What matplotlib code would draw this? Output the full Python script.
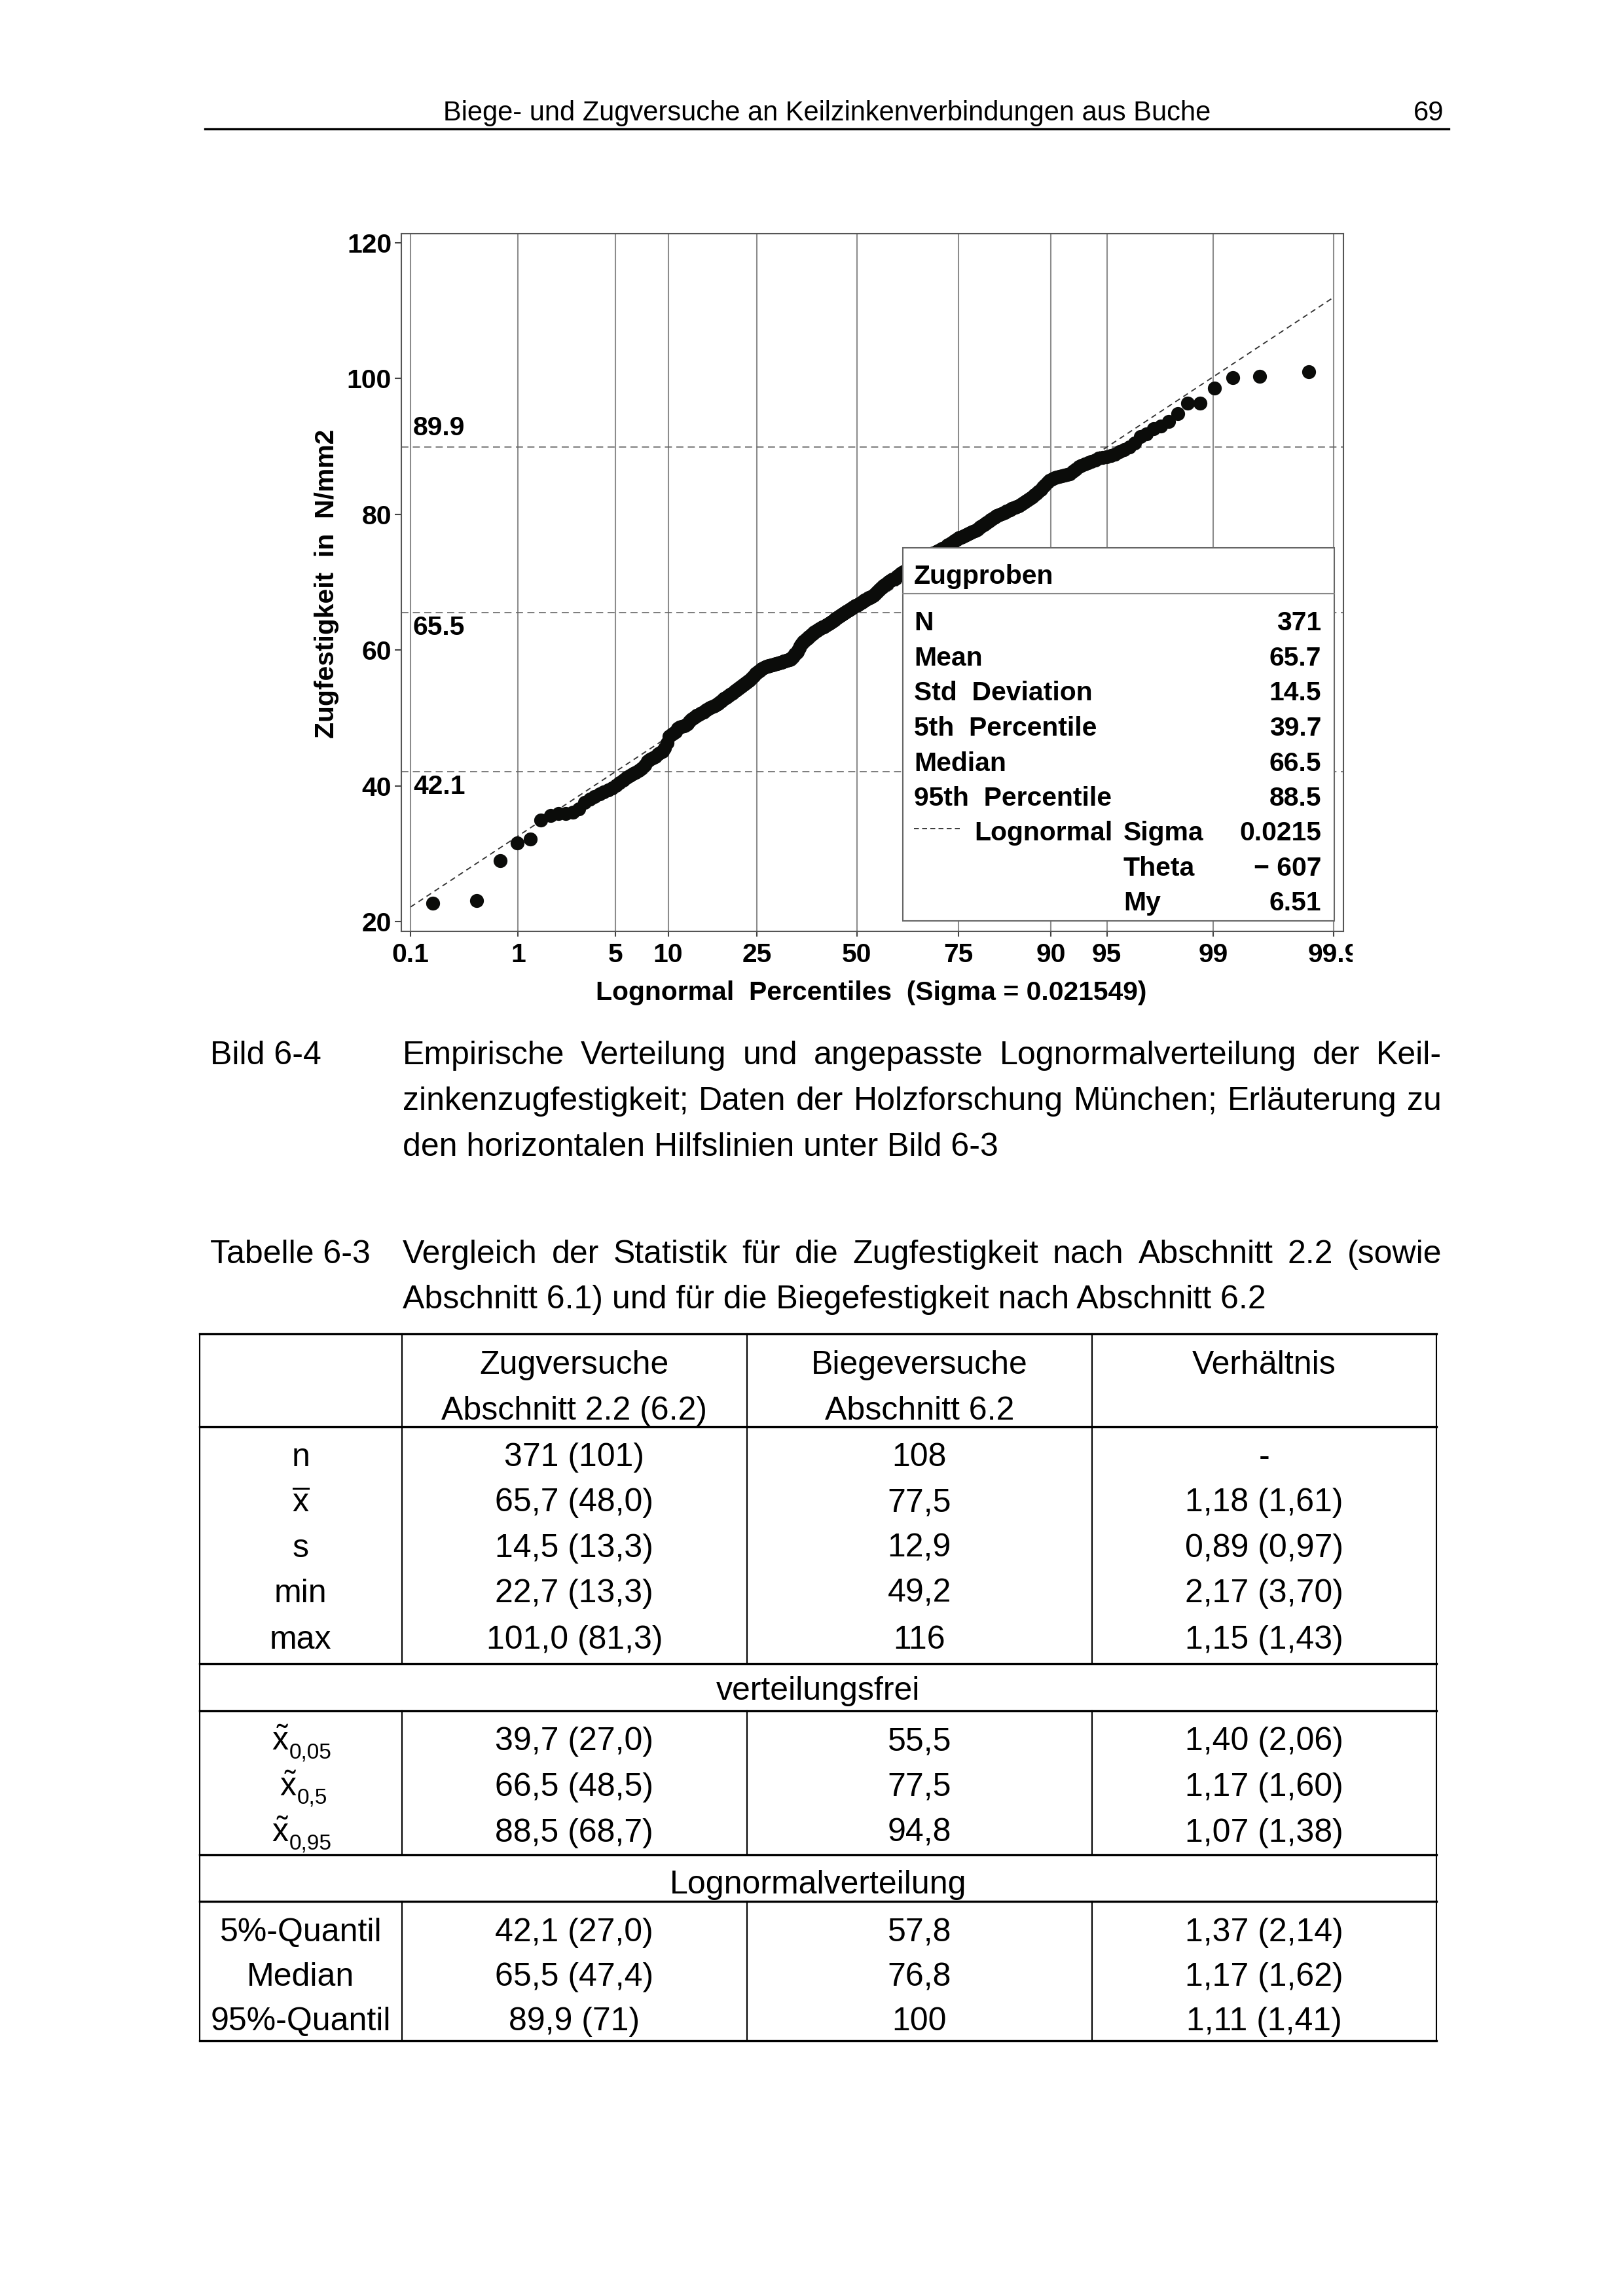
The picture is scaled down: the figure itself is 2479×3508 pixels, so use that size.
import numpy as np
import matplotlib
matplotlib.use('Agg')
import matplotlib.pyplot as plt
from matplotlib.lines import Line2D
from matplotlib.patches import Rectangle
from matplotlib.transforms import Bbox, TransformedBbox
from statistics import NormalDist

plt.rcParams['font.family'] = ['Liberation Sans', 'DejaVu Sans']
plt.rcParams['mathtext.fontset'] = 'custom'
plt.rcParams['mathtext.rm'] = 'Liberation Sans'
plt.rcParams['mathtext.it'] = 'Liberation Sans:italic'
plt.rcParams['lines.scale_dashes'] = False

# Seitengroesse in Pixel (A4 bei 300 dpi)
W, H = 2479, 3508
DPI = 300

# Sortierte Zugfestigkeiten, N/mm2
zugfestigkeit = [
    22.7, 23.1, 29.0, 31.6, 32.1, 34.9, 35.6, 35.9, 35.9, 36.1,
    36.6, 37.5, 38.0, 38.4, 38.8, 39.1, 39.4, 39.7, 40.1, 40.4,
    40.8, 41.2, 41.5, 41.8, 42.0, 42.3, 42.6,
    43.0, 43.6, 43.9, 44.1, 44.3, 44.7, 44.9, 45.1, 45.6, 46.3, 47.3, 47.6,
    47.8, 48.0, 48.4, 48.6, 48.7, 48.8, 48.9, 49.1, 49.5, 49.8, 50.0,
    50.2, 50.4, 50.5, 50.7, 50.8, 50.9, 51.1,
    51.2, 51.4, 51.5, 51.6, 51.7, 51.8, 52.0, 52.1,
    52.3, 52.5, 52.7, 52.9,
    53.0, 53.2, 53.3, 53.5, 53.6, 53.7, 53.9, 54.0,
    54.2, 54.3, 54.5, 54.6, 54.8, 54.9, 55.1, 55.2, 55.4, 55.5,
    55.7, 55.9, 56.1, 56.3, 56.5, 56.6, 56.8,
    56.9, 57.0, 57.2, 57.3, 57.4, 57.5, 57.6,
    57.6, 57.7, 57.7, 57.8, 57.8, 57.9, 57.9, 58.0, 58.0, 58.1, 58.1,
    58.2, 58.2, 58.3, 58.4, 58.4, 58.5, 58.5, 58.6, 58.6, 58.7,
    58.9, 59.0, 59.2, 59.4, 59.5, 59.7,
    60.0, 60.3, 60.6, 60.9, 61.1, 61.3,
    61.4, 61.6, 61.7, 61.8, 61.9, 62.0, 62.2, 62.3, 62.4, 62.6,
    62.7, 62.8, 62.9, 63.0, 63.1, 63.2, 63.3, 63.4, 63.4, 63.5, 63.6, 63.7, 63.8,
    63.9, 64.0, 64.1, 64.2, 64.3, 64.4, 64.5, 64.6, 64.7, 64.8, 64.9, 65.0,
    65.1, 65.2, 65.3, 65.4, 65.5, 65.6, 65.7, 65.8, 65.9, 66.0, 66.1, 66.2, 66.3,
    66.4, 66.5, 66.6, 66.6, 66.7, 66.8, 66.9, 67.0, 67.1,
    67.2, 67.3, 67.3, 67.4, 67.5, 67.6, 67.7, 67.7, 67.8, 67.9, 68.0,
    68.1, 68.3, 68.4, 68.6, 68.7, 68.9, 69.0, 69.2, 69.3, 69.5,
    69.6, 69.7, 69.8, 69.9, 70.0, 70.1, 70.2, 70.3, 70.4, 70.4, 70.5,
    70.6, 70.8, 70.9, 71.0, 71.2, 71.3,
    71.4, 71.5, 71.5, 71.7, 71.8, 71.9, 72.1, 72.1, 72.2, 72.3,
    72.4, 72.6, 72.6, 72.7, 72.8, 73.0, 73.0, 73.1, 73.2, 73.4,
    73.4, 73.5, 73.6, 73.8, 73.8, 73.9, 74.0, 74.1, 74.3, 74.3,
    74.4, 74.5, 74.6, 74.7, 74.8, 74.9, 75.0, 75.0, 75.1,
    75.2, 75.4, 75.5, 75.6, 75.7, 75.8, 75.9, 76.1, 76.2, 76.3, 76.5,
    76.6, 76.6, 76.7, 76.8, 76.9, 77.0, 77.1, 77.2, 77.3,
    77.4, 77.5, 77.6, 77.7, 77.8, 78.0, 78.1, 78.2, 78.4, 78.5,
    78.7, 78.8, 79.0, 79.2, 79.3, 79.5, 79.6, 79.8,
    79.9, 80.0, 80.1, 80.2, 80.3, 80.5, 80.6, 80.7,
    80.8, 80.9, 81.0, 81.1, 81.2,
    81.4, 81.6, 81.8, 82.0, 82.2,
    82.4, 82.6, 82.9, 83.1, 83.4, 83.6,
    84.0, 84.3, 84.7,
    85.0, 85.2, 85.4,
    85.5, 85.6, 85.7, 85.8, 85.9, 86.0,
    86.3, 86.6, 87.0,
    87.2, 87.4, 87.6, 87.8,
    88.0, 88.3, 88.4,
    88.5, 88.7, 88.9, 89.2, 89.5,
    89.9, 90.5, 91.5, 91.8, 92.6, 93.0, 93.7, 94.8, 96.4, 96.4,
    98.6, 100.1, 100.3, 101.0,
]

# Lognormal-Anpassung
sigma = 0.021549
q05_fit, q50_fit, q95_fit = 42.1, 65.5, 89.9
hilfslinien = [42.1, 65.5, 89.9]
hilfslinien_text = ['42.1', '65.5', '89.9']

perzentile = [0.1, 1, 5, 10, 25, 50, 75, 90, 95, 99, 99.9]
perzentil_text = ['0.1', '1', '5', '10', '25', '50', '75', '90', '95', '99', '99.9']
y_ticks = [20, 40, 60, 80, 100, 120]

stat_namen = ['N', 'Mean', 'Std  Deviation', '5th  Percentile', 'Median', '95th  Percentile']
stat_werte = ['371', '65.7', '14.5', '39.7', '66.5', '88.5']
fit_namen = ['Sigma', 'Theta', 'My']
fit_werte = ['0.0215', '\u2212 607', '6.51']

# Tabelle 6-3
kopf = [('Zugversuche', 'Abschnitt 2.2 (6.2)'), ('Biegeversuche', 'Abschnitt 6.2'), ('Verhältnis', '')]
block1_namen = ['n', r'$\overline{\mathrm{x}}$', 's', 'min', 'max']
block1_zug = ['371 (101)', '65,7 (48,0)', '14,5 (13,3)', '22,7 (13,3)', '101,0 (81,3)']
block1_biege = ['108', '77,5', '12,9', '49,2', '116']
block1_verh = ['-', '1,18 (1,61)', '0,89 (0,97)', '2,17 (3,70)', '1,15 (1,43)']
block2_index = ['0,05', '0,5', '0,95']
block2_zug = ['39,7 (27,0)', '66,5 (48,5)', '88,5 (68,7)']
block2_biege = ['55,5', '77,5', '94,8']
block2_verh = ['1,40 (2,06)', '1,17 (1,60)', '1,07 (1,38)']
block3_namen = ['5%-Quantil', 'Median', '95%-Quantil']
block3_zug = ['42,1 (27,0)', '65,5 (47,4)', '89,9 (71)']
block3_biege = ['57,8', '76,8', '100']
block3_verh = ['1,37 (2,14)', '1,17 (1,62)', '1,11 (1,41)']


def fx(x):
    return x / W


def fy(y):
    return 1 - y / H


nd = NormalDist()


def lognorm_pos(p):
    """Position auf der Lognormal-Perzentilachse (p in 0..1)."""
    z = np.array([nd.inv_cdf(v) for v in np.atleast_1d(p)])
    return (np.exp(sigma * z) - 1) / sigma


fig = plt.figure(figsize=(W / DPI, H / DPI), dpi=DPI)
renderer = fig.canvas.get_renderer()

# ---------------- Kopfzeile ----------------
fig.text(fx(1263), fy(184), 'Biege- und Zugversuche an Keilzinkenverbindungen aus Buche',
         fontsize=10, ha='center', va='baseline')
fig.text(fx(2205), fy(184), '69', fontsize=10, ha='right', va='baseline')
fig.add_artist(Line2D([fx(313), fx(2213)], [fy(197), fy(197)], color='black', lw=0.8))

# ---------------- Diagramm ----------------
FS = 9.8
ax = fig.add_axes([fx(612.7), fy(1423), (2051.7 - 612.7) / W, (1423 - 356.8) / H])
ax.set_xlim(-3.053, 3.258)
ax.set_ylim(18.55, 121.37)

n = len(zugfestigkeit)
raenge = np.arange(1, n + 1)
pp = (raenge - 0.375) / (n + 0.25)
x_pkt = lognorm_pos(pp)
ax.plot(x_pkt, zugfestigkeit, 'o', ms=5.1, color='#0b0c0a', mew=0, zorder=4)

# angepasste Lognormalverteilung (Gerade im Wahrscheinlichkeitsnetz)
e05, e95 = lognorm_pos([0.05, 0.95])
steigung = (q95_fit - q05_fit) / (e95 - e05)
e_lin = lognorm_pos([0.001, 0.999])
ax.plot(e_lin, q05_fit + steigung * (e_lin - e05), color='#333333', lw=0.45,
        dashes=(2.0, 1.5), zorder=3)

x_ticks = lognorm_pos(np.array(perzentile) / 100)
for xt in x_ticks:
    ax.axvline(xt, color='#8c8c8c', lw=0.5, zorder=1)

label_off = [-2.23, -2.25, 2.84]
for v, txt, off in zip(hilfslinien, hilfslinien_text, label_off):
    ax.axhline(v, color='#666666', lw=0.4, dashes=(2.6, 1.6), zorder=2)
    ax.text(0.0127, v + off, txt, transform=ax.get_yaxis_transform(), fontsize=FS,
            fontweight='bold', ha='left', va='center', zorder=3)

ax.set_xticks(x_ticks)
ax.set_xticklabels([])
ax.tick_params(axis='x', length=2.0, width=0.5, color='#444444', direction='out')
clip = TransformedBbox(Bbox([[0, 0], [2066 / W, 1]]), fig.transFigure)
for xt, txt in zip(x_ticks, perzentil_text):
    t = ax.text(xt, -0.0338, txt, transform=ax.get_xaxis_transform(), fontsize=FS,
                fontweight='bold', ha='center', va='center', clip_on=True)
    t.set_clip_box(clip)

ax.set_yticks(y_ticks)
ax.set_yticklabels([str(v) for v in y_ticks], fontsize=FS, fontweight='bold')
ax.tick_params(axis='y', length=2.4, width=0.5, pad=1.1, color='#444444', direction='out')
for sp in ax.spines.values():
    sp.set_color('#555555')
    sp.set_linewidth(0.5)

fig.text(fx(499), fy(892), 'Zugfestigkeit  in  N/mm2', rotation=90, fontsize=FS,
         fontweight='bold', ha='center', va='center')
fig.text(fx(1331), fy(1517), 'Lognormal  Percentiles  (Sigma = 0.021549)', fontsize=FS,
         fontweight='bold', ha='center', va='center')

# Statistik-Kasten
ax.add_patch(Rectangle((fx(1378.7), fy(1407.4)), (2037.7 - 1378.7) / W, (1407.4 - 836.7) / H,
                       transform=fig.transFigure, facecolor='white', edgecolor='#666666',
                       lw=0.5, zorder=6, clip_on=False))
ax.add_line(Line2D([fx(1378.7), fx(2037.7)], [fy(907.3), fy(907.3)], transform=fig.transFigure,
                   color='#888888', lw=0.5, zorder=7, clip_on=False))
kw = dict(fontsize=FS, fontweight='bold', va='baseline')
fig.text(fx(1396), fy(877.6 + 14), 'Zugproben', ha='left', **kw)
zeilen_y = [949.3, 1002.6, 1056.0, 1110.2, 1163.6, 1216.9]
for yy, name, wert in zip(zeilen_y, stat_namen, stat_werte):
    fig.text(fx(1396), fy(yy + 14), name, ha='left', **kw)
    fig.text(fx(2018), fy(yy + 14), wert, ha='right', **kw)
fit_y = [1270.2, 1323.5, 1376.8]
fig.text(fx(1488), fy(fit_y[0] + 14), 'Lognormal', ha='left', **kw)
fig.add_artist(Line2D([fx(1396), fx(1466)], [fy(1266), fy(1266)], color='#333333', lw=0.45,
                      dashes=(1.8, 1.2)))
for yy, name, wert in zip(fit_y, fit_namen, fit_werte):
    fig.text(fx(1716), fy(yy + 14), name, ha='left', **kw)
    fig.text(fx(2018), fy(yy + 14), wert, ha='right', **kw)


# ---------------- Bildunterschrift ----------------
def blocksatz(text, x0, x1, y, size=12):
    woerter = text.split()
    objs = [fig.text(0, fy(y), w, fontsize=size, va='baseline') for w in woerter]
    breiten = [o.get_window_extent(renderer).width for o in objs]
    luecke = (x1 - x0 - sum(breiten)) / (len(woerter) - 1)
    x = x0
    for o, b in zip(objs, breiten):
        o.set_x(fx(x))
        x += b + luecke


fig.text(fx(321), fy(1626), 'Bild 6-4', fontsize=12, va='baseline')
blocksatz('Empirische Verteilung und angepasste Lognormalverteilung der Keil-', 615, 2202, 1626)
blocksatz('zinkenzugfestigkeit; Daten der Holzforschung München; Erläuterung zu', 615, 2202, 1696)
fig.text(fx(615), fy(1766), 'den horizontalen Hilfslinien unter Bild 6-3', fontsize=12, va='baseline')

fig.text(fx(321), fy(1930), 'Tabelle 6-3', fontsize=12, va='baseline')
blocksatz('Vergleich der Statistik für die Zugfestigkeit nach Abschnitt 2.2 (sowie', 615, 2202, 1930)
fig.text(fx(615), fy(1999), 'Abschnitt 6.1) und für die Biegefestigkeit nach Abschnitt 6.2',
         fontsize=12, va='baseline')

# ---------------- Tabelle ----------------
spalten = [305, 613.75, 1141, 1667.5, 2194]
mitten = [(a + b) / 2 for a, b in zip(spalten[:-1], spalten[1:])]


def hlinie(y, lw=0.8):
    fig.add_artist(Line2D([fx(spalten[0]), fx(spalten[-1])], [fy(y), fy(y)], color='black', lw=lw))


def vlinie(x, y0, y1):
    fig.add_artist(Line2D([fx(x), fx(x)], [fy(y0), fy(y1)], color='black', lw=0.5))


for yy in [2038.4, 2180.4, 2541.6, 2613.9, 2834.0, 2905.2, 3117.5]:
    hlinie(yy)
for x in spalten:
    for y0, y1 in [(2038.4, 2541.6), (2613.9, 2834.0), (2905.2, 3117.5)]:
        vlinie(x, y0, y1)
vlinie(spalten[0], 2541.6, 2613.9)
vlinie(spalten[-1], 2541.6, 2613.9)
vlinie(spalten[0], 2834.0, 2905.2)
vlinie(spalten[-1], 2834.0, 2905.2)

tk = dict(fontsize=12, ha='center', va='baseline')
for m, (z1, z2) in zip(mitten[1:], kopf):
    fig.text(fx(m), fy(2081 + 18), z1, **tk)
    if z2:
        fig.text(fx(m), fy(2150.6 + 18), z2, **tk)

zeilen1 = [2222, 2291.4, 2360.8, 2430, 2500.8]
for yy, a, b, c, d in zip(zeilen1, block1_namen, block1_zug, block1_biege, block1_verh):
    for m, s in zip(mitten, [a, b, c, d]):
        fig.text(fx(m), fy(yy + 18), s, **tk)

fig.text(fx(1250), fy(2579.2 + 18), 'verteilungsfrei', **tk)

zeilen2 = [2656.5, 2726, 2795.8]
for yy, idx, b, c, d in zip(zeilen2, block2_index, block2_zug, block2_biege, block2_verh):
    x_links = 415 if len(idx) > 3 else 427
    fig.text(fx(x_links), fy(yy + 18), r'$\tilde{\mathrm{x}}$', fontsize=12, ha='left', va='baseline')
    fig.text(fx(x_links + 27), fy(yy + 30), idx, fontsize=8, ha='left', va='baseline')
    for m, s in zip(mitten[1:], [b, c, d]):
        fig.text(fx(m), fy(yy + 18), s, **tk)

fig.text(fx(1250), fy(2875.4 + 18), 'Lognormalverteilung', **tk)

zeilen3 = [2948.4, 3016.3, 3084.3]
for yy, a, b, c, d in zip(zeilen3, block3_namen, block3_zug, block3_biege, block3_verh):
    for m, s in zip(mitten, [a, b, c, d]):
        fig.text(fx(m), fy(yy + 18), s, **tk)

fig.savefig('out.png', dpi=DPI)
